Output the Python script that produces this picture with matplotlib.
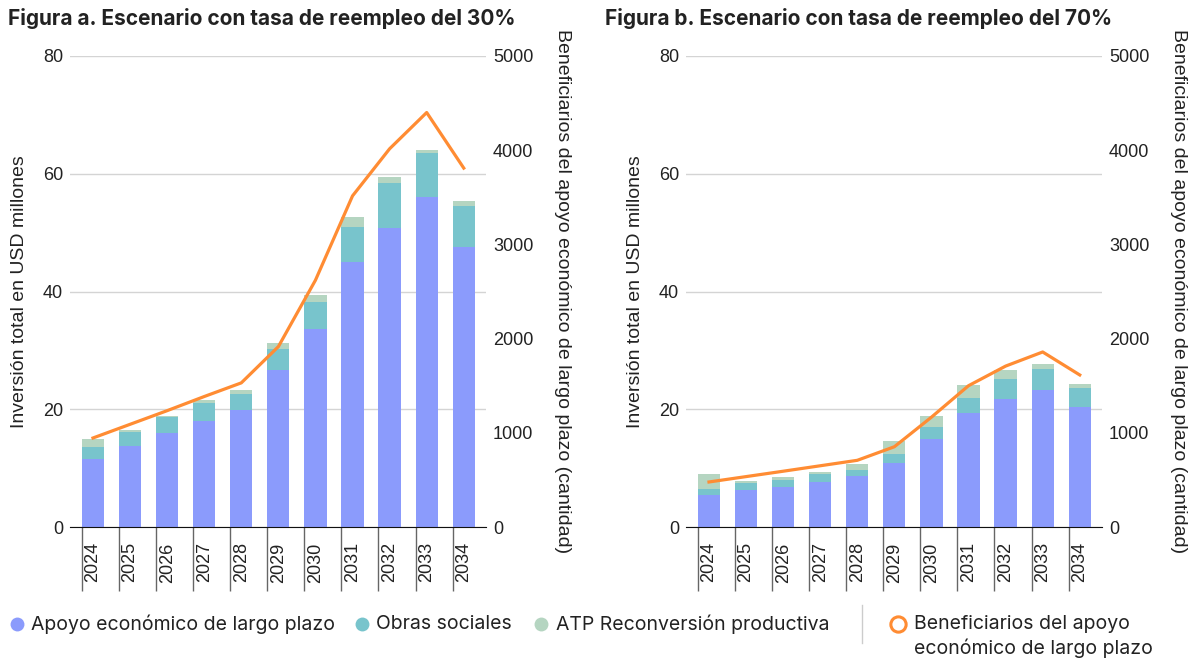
import numpy as np
import matplotlib.pyplot as plt
from matplotlib.lines import Line2D

plt.rcParams['font.family'] = ['Liberation Sans', 'DejaVu Sans']

years = ['2024', '2025', '2026', '2027', '2028', '2029', '2030', '2031', '2032', '2033', '2034']

# escenario a (30%)
apoyo_a = [11.6, 13.8, 16.0, 18.0, 19.9, 26.7, 33.6, 45.0, 50.8, 56.1, 47.5]
obras_a = [2.0, 2.3, 2.7, 3.1, 2.7, 3.5, 4.6, 6.0, 7.6, 7.4, 7.0]
atp_a = [1.4, 0.4, 0.2, 0.5, 0.7, 1.0, 1.2, 1.7, 1.0, 0.6, 0.9]
benef_a = [945, 1090, 1235, 1385, 1530, 1915, 2620, 3515, 4015, 4400, 3810]

# escenario b (70%)
apoyo_b = [5.4, 6.3, 6.8, 7.7, 8.7, 10.8, 15.0, 19.4, 21.7, 23.3, 20.4]
obras_b = [1.0, 1.2, 1.2, 1.3, 1.0, 1.6, 2.0, 2.5, 3.4, 3.5, 3.2]
atp_b = [2.6, 0.3, 0.5, 0.4, 1.0, 2.2, 1.9, 2.2, 1.6, 0.9, 0.7]
benef_b = [478, 535, 592, 650, 708, 852, 1166, 1500, 1708, 1858, 1614]

titles = ['Figura a. Escenario con tasa de reempleo del 30%',
          'Figura b. Escenario con tasa de reempleo del 70%']

c_apoyo = '#8b9bfc'
c_obras = '#78c4cc'
c_atp = '#b5d5c1'
c_benef = '#ff8c33'
txt = '#222222'

fig = plt.figure(figsize=(12, 6.61), dpi=100)

panels = [(apoyo_a, obras_a, atp_a, benef_a), (apoyo_b, obras_b, atp_b, benef_b)]
lefts = [70 / 1200, 686 / 1200]
x = np.arange(len(years))

for k, (ap, ob, at, be) in enumerate(panels):
    ax = fig.add_axes([lefts[k], 1 - 527 / 661, 416 / 1200, 471 / 661])
    ap = np.array(ap); ob = np.array(ob); at = np.array(at)
    ax.bar(x, ap, width=0.6, color=c_apoyo, zorder=2)
    ax.bar(x, ob, width=0.6, bottom=ap, color=c_obras, zorder=2)
    ax.bar(x, at, width=0.6, bottom=ap + ob, color=c_atp, zorder=2)
    ax.set_ylim(0, 80)
    ax.set_yticks([0, 20, 40, 60, 80])
    ax.set_xlim(-0.62, 10.6)
    ax.grid(axis='y', color='#d4d4d4', lw=1, zorder=0)
    for s in ['top', 'right', 'left']:
        ax.spines[s].set_visible(False)
    ax.spines['bottom'].set_color('#111111')
    ax.spines['bottom'].set_zorder(3)
    ax.set_xticks(x)
    ax.set_xticklabels(years, rotation=90, fontsize=13, color=txt)
    ax.set_xticks(x - 0.3, minor=True)
    ax.tick_params(axis='x', which='major', length=0, pad=11)
    ax.tick_params(axis='x', which='minor', length=46, width=1, color='#666666', direction='out')
    ax.tick_params(axis='y', length=0, pad=5, labelsize=13, labelcolor=txt)
    ax.set_ylabel('Inversión total en USD millones', fontsize=14, color=txt)
    ax.yaxis.set_label_coords(-0.101, 0.5)
    ax.set_title(titles[k], loc='left', fontsize=15, fontweight='bold', family=['Inter', 'DejaVu Sans'],
                 color=txt, x=(8 - 70) / 416 if k == 0 else (605 - 686) / 416, y=1.048)

    ax2 = ax.twinx()
    ax2.plot(x, be, color=c_benef, lw=2.3, zorder=4)
    ax2.set_ylim(0, 5000)
    ax2.set_yticks([0, 1000, 2000, 3000, 4000, 5000])
    for s in ['top', 'right', 'left', 'bottom']:
        ax2.spines[s].set_visible(False)
    ax2.tick_params(axis='y', length=0, pad=5, labelsize=13, labelcolor=txt)
    ax2.set_ylabel('Beneficiarios del apoyo económico de largo plazo (cantidad)',
                   rotation=270, fontsize=14, color=txt, va='center')
    ax2.yaxis.set_label_coords(1.183, 0.5)

# leyenda
ly = 1 - 624 / 661
ly2 = 1 - 648 / 661
lf = ['Inter', 'DejaVu Sans']
items = [(17, c_apoyo, 'Apoyo económico de largo plazo', 31),
         (362, c_obras, 'Obras sociales', 376),
         (541, c_atp, 'ATP Reconversión productiva', 556)]
for mx, col, lab, tx in items:
    fig.add_artist(Line2D([mx / 1200], [ly], marker='o', ms=10, color=col, lw=0,
                          markeredgewidth=0, transform=fig.transFigure))
    fig.text(tx / 1200, ly, lab, fontsize=14, va='center', ha='left', color=txt, family=lf)
fig.add_artist(Line2D([862 / 1200, 862 / 1200], [1 - 605 / 661, 1 - 643 / 661],
                      color='#cccccc', lw=1, transform=fig.transFigure))
fig.add_artist(Line2D([898 / 1200], [ly], marker='o', ms=11, color='white', lw=0,
                      markeredgecolor=c_benef, markeredgewidth=2.2, transform=fig.transFigure))
fig.text(914 / 1200, ly, 'Beneficiarios del apoyo', fontsize=14,
         va='center', ha='left', color=txt, family=lf)
fig.text(914 / 1200, ly2, 'económico de largo plazo', fontsize=14,
         va='center', ha='left', color=txt, family=lf)

fig.savefig('out.png', dpi=100)
